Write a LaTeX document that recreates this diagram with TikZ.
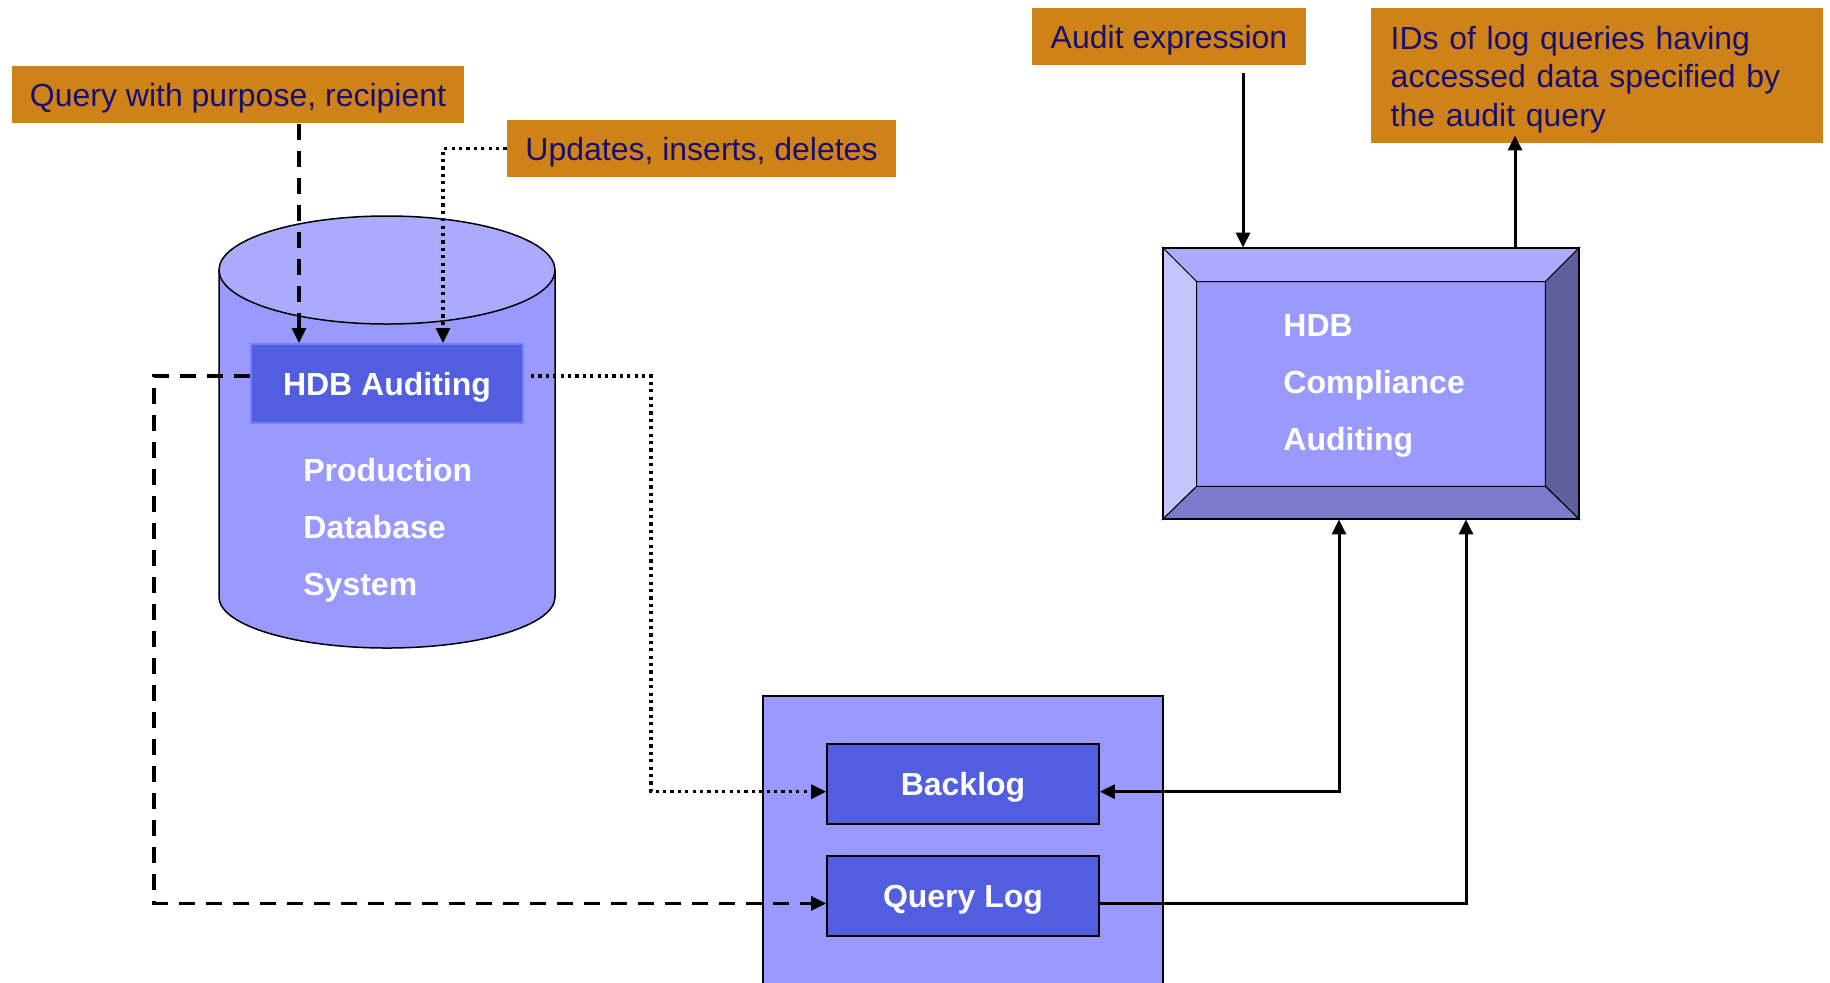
\documentclass[tikz,border=0pt]{standalone}
\usepackage{fontspec}
\setmainfont{Liberation Sans}
\usetikzlibrary{arrows.meta}

\definecolor{labelorange}{RGB}{207,130,24}
\definecolor{labelnavy}{RGB}{24,16,110}
\definecolor{dbbody}{RGB}{153,153,255}
\definecolor{dbtop}{RGB}{170,170,255}
\definecolor{unitblue}{RGB}{82,94,224}
\definecolor{unitedge}{RGB}{112,128,255}
\definecolor{bevtop}{RGB}{170,170,255}
\definecolor{bevleft}{RGB}{196,196,255}
\definecolor{bevright}{RGB}{94,94,154}
\definecolor{bevbottom}{RGB}{123,123,204}

\begin{document}
\begin{tikzpicture}[x=0.5pt,y=-0.5pt,
  labelbox/.style={fill=labelorange, text=labelnavy, inner sep=0pt,
    font=\fontsize{16}{19.25}\selectfont},
  oneline/.style={text height=12.2pt, text depth=0pt},
  unitbox/.style={fill=unitblue, draw=black, line width=0.85pt, text=white,
    minimum width=136pt, minimum height=40pt, inner sep=0pt,
    text height=11.6pt, text depth=0pt,
    font=\bfseries\fontsize{16}{19}\selectfont},
  bigtext/.style={text=white, align=left, inner sep=0pt, anchor=west,
    font=\bfseries\fontsize{16}{28.5}\selectfont},
  tip/.style={-{Triangle[length=7.5pt,width=7pt]}},
  solidline/.style={line width=1.5pt},
  dashline/.style={line width=1.6pt, dash pattern=on 8pt off 5.5pt},
  dotline/.style={line width=1.6pt, dash pattern=on 1.6pt off 2.1pt},
  bevel/.style={draw=black, line width=0.5pt, line join=miter}
]
\useasboundingbox (0,0) rectangle (1830,982);

% ---------- input / output labels ----------
\node[labelbox, oneline, minimum width=226pt, minimum height=28.5pt] (query) at (238,94.7)
  {Query with purpose, recipient};
\node[labelbox, oneline, minimum width=194.5pt, minimum height=28.5pt] (updates) at (701.5,148.5)
  {Updates, inserts, deletes};
\node[labelbox, oneline, minimum width=137pt, minimum height=28.5pt] (auditexpr) at (1169,36.7)
  {Audit expression};
\node[labelbox, minimum width=226pt, minimum height=67.3pt, inner xsep=9.85pt,
      text width=206.3pt, align=left] (ids) at (1597,75.3)
  {\rule{0pt}{15.6pt}IDs of log queries having\\accessed data specified by\\the audit query};

% ---------- production database (cylinder) ----------
\draw[fill=dbbody, line width=0.75pt] (219,270) -- (219,597)
  arc[start angle=180, end angle=360, x radius=84pt, y radius=25.5pt]
  -- (555,270) -- cycle;
\draw[fill=dbtop, line width=0.75pt] (387,270) ellipse [x radius=84pt, y radius=27pt];

\node[fill=unitblue, draw=unitedge, line width=1pt, text=white,
      minimum width=136pt, minimum height=39.5pt, inner sep=0pt,
      text height=11.6pt, text depth=0pt,
      font=\bfseries\fontsize{16}{19}\selectfont] (hdbaud) at (387,383.5) {HDB Auditing};
\node[bigtext] (pdbs) at (303,530.7) {Production\\Database\\System};

% ---------- compliance auditing block ----------
\node[minimum width=208pt, minimum height=135.5pt, inner sep=0pt] (comp) at (1371,383.5) {};
\node[minimum width=174pt, minimum height=102pt, inner sep=0pt] (compin) at (1371,384) {};
\fill[dbbody] (compin.north west) rectangle (compin.south east);
\filldraw[bevel, fill=bevtop] (comp.north west) -- (comp.north east)
  -- (compin.north east) -- (compin.north west) -- cycle;
\filldraw[bevel, fill=bevleft] (comp.north west) -- (compin.north west)
  -- (compin.south west) -- (comp.south west) -- cycle;
\filldraw[bevel, fill=bevright] (comp.north east) -- (comp.south east)
  -- (compin.south east) -- (compin.north east) -- cycle;
\filldraw[bevel, fill=bevbottom] (comp.south west) -- (comp.south east)
  -- (compin.south east) -- (compin.south west) -- cycle;
\draw[line width=0.7pt] (compin.north west) rectangle (compin.south east);
\draw[line width=1pt] (comp.north west) rectangle (comp.south east);
\node[bigtext] (comptext) at (1283,385.7) {HDB\\Compliance\\Auditing};

% ---------- log store ----------
\node[fill=dbbody, draw=black, line width=0.75pt, minimum width=200pt,
      minimum height=148pt, inner sep=0pt] (logstore) at (963,844) {};
\node[unitbox] (backlog) at (963,784) {Backlog};
\node[unitbox] (querylog) at (963,896) {Query Log};

% ---------- connectors ----------
\coordinate (qtip) at ([xshift=-44pt]hdbaud.north);
\coordinate (utip) at ([xshift=28pt]hdbaud.north);
\draw[dashline, tip] (query.south -| qtip) -- (qtip);
\draw[dotline, tip] (updates.west) -| (utip);

\draw[dashline, tip] ([yshift=3.75pt]hdbaud.west) -- ++(-48pt,0)
  |- ([yshift=-3.7pt]querylog.west);
\draw[dotline, tip] ([xshift=3.5pt,yshift=3.75pt]hdbaud.east) -- ++(60pt,0)
  |- ([yshift=-3.85pt]backlog.west);

\coordinate (ain) at ([xshift=-64pt]comp.north);
\coordinate (iout) at ([xshift=72pt]comp.north);
\draw[solidline, tip, shorten <=3.5pt] (auditexpr.south -| ain) -- (ain);
\draw[solidline, tip, shorten >=-3.8pt] (iout) -- (ids.south -| iout);

\draw[solidline, {Triangle[length=7.5pt,width=7pt]}-{Triangle[length=7.5pt,width=7pt]}]
  ([xshift=-16pt]comp.south) |- ([yshift=-3.85pt]backlog.east);
\draw[solidline, tip] ([yshift=-3.7pt]querylog.east) -| ([xshift=47.5pt]comp.south);
\end{tikzpicture}
\end{document}
